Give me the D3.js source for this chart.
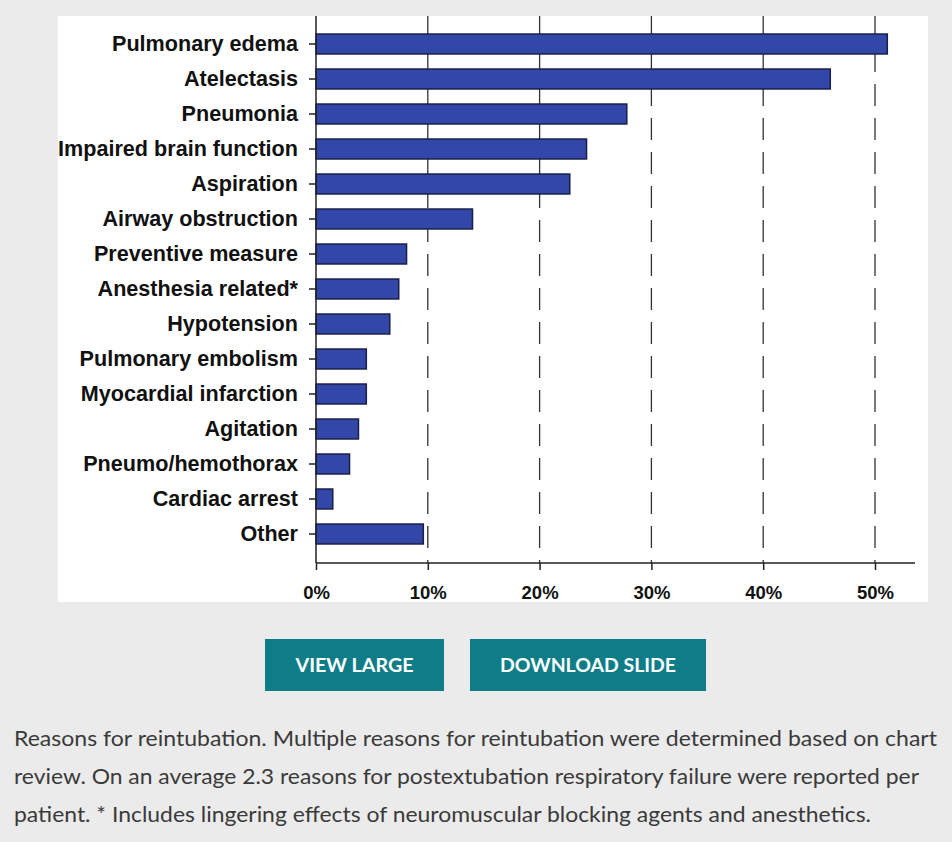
<!DOCTYPE html>
<html><head><meta charset="utf-8">
<script src="https://cdn.jsdelivr.net/npm/d3@7"></script>
<style>
html,body{margin:0;padding:0;background:#ebebeb;}
svg{display:block;}
</style></head>
<body>
<svg id="c" width="952" height="842"></svg>
<script>
const categories = ["Pulmonary edema","Atelectasis","Pneumonia","Impaired brain function","Aspiration","Airway obstruction","Preventive measure","Anesthesia related*","Hypotension","Pulmonary embolism","Myocardial infarction","Agitation","Pneumo/hemothorax","Cardiac arrest","Other"];
const values = [51.1,46.0,27.8,24.2,22.7,14.0,8.1,7.4,6.6,4.5,4.5,3.8,3.0,1.5,9.6];
const tickValues = [0,10,20,30,40,50];
const buttons = ["VIEW LARGE","DOWNLOAD SLIDE"];
const captionLines = [
 "Reasons for reintubation. Multiple reasons for reintubation were determined based on chart",
 "review. On an average 2.3 reasons for postextubation respiratory failure were reported per",
 "patient. * Includes lingering effects of neuromuscular blocking agents and anesthetics."
];

const svg = d3.select("#c");
svg.append("rect").attr("x",0).attr("y",0).attr("width",952).attr("height",842).attr("fill","#ebebeb");
svg.append("rect").attr("x",58).attr("y",16).attr("width",870).attr("height",586).attr("fill","#ffffff");

const x = d3.scaleLinear().domain([0,50]).range([316,875]);
const y = d3.scaleBand().domain(categories).range([26.5,551.5]).paddingInner(0.43).paddingOuter(0.215);
const axisY = 563, topY = 16, rightX = 915;

// gridlines
svg.append("g").selectAll("line").data(tickValues.filter(d=>d>0)).join("line")
  .attr("x1",d=>x(d)).attr("x2",d=>x(d)).attr("y1",topY).attr("y2",axisY)
  .attr("stroke","#333").attr("stroke-width",1.3).attr("stroke-dasharray","22,12");

// bars
svg.append("g").selectAll("rect").data(values).join("rect")
  .attr("x",x(0)).attr("y",(d,i)=>y(categories[i]))
  .attr("width",d=>x(d)-x(0)).attr("height",y.bandwidth())
  .attr("fill","#3247a8").attr("stroke","#1a1f48").attr("stroke-width",1.5);

// y axis
const gy = svg.append("g").attr("transform",`translate(${x(0)},0)`)
  .call(d3.axisLeft(y).tickSize(7).tickPadding(11));
gy.select(".domain").attr("d",`M0,${topY}V${axisY}`).attr("stroke","#222").attr("stroke-width",1.5);
gy.selectAll(".tick line").attr("stroke","#222").attr("stroke-width",1.5);
gy.selectAll(".tick text").attr("font-family","'Liberation Sans', Arial, sans-serif")
  .attr("font-size",21.6).attr("font-weight","bold").attr("fill","#111");

// x axis
const gx = svg.append("g").attr("transform",`translate(0,${axisY})`)
  .call(d3.axisBottom(x).tickValues(tickValues).tickFormat(d=>d+"%").tickSize(7).tickPadding(16));
gx.select(".domain").attr("d",`M${x(0)},0H${rightX}`).attr("stroke","#222").attr("stroke-width",1.5);
gx.selectAll(".tick line").attr("stroke","#222").attr("stroke-width",1.5);
gx.selectAll(".tick text").attr("font-family","'Liberation Sans', Arial, sans-serif")
  .attr("font-size",18.5).attr("font-weight","bold").attr("fill","#111");

// buttons
const btnX = [265,470], btnW = [179,236], btnTextW = [118,176];
const bg = svg.append("g").selectAll("g").data(buttons).join("g");
bg.append("rect").attr("x",(d,i)=>btnX[i]).attr("y",639).attr("width",(d,i)=>btnW[i]).attr("height",52).attr("fill","#0f7d88");
bg.append("text").attr("x",(d,i)=>btnX[i]+btnW[i]/2).attr("y",672).attr("text-anchor","middle")
  .attr("font-family","Lato, sans-serif").attr("font-weight","bold").attr("font-size",19)
  .attr("textLength",(d,i)=>btnTextW[i]).attr("lengthAdjust","spacingAndGlyphs")
  .attr("fill","#ffffff").text(d=>d);

// caption
const capW = [923,905,857];
svg.append("g").selectAll("text").data(captionLines).join("text")
  .attr("x",14).attr("y",(d,i)=>746+i*38)
  .attr("font-family","Lato, sans-serif").attr("font-size",21.5)
  .attr("textLength",(d,i)=>capW[i]).attr("lengthAdjust","spacingAndGlyphs")
  .attr("fill","#3a3a3a").text(d=>d);
</script>
</body></html>
